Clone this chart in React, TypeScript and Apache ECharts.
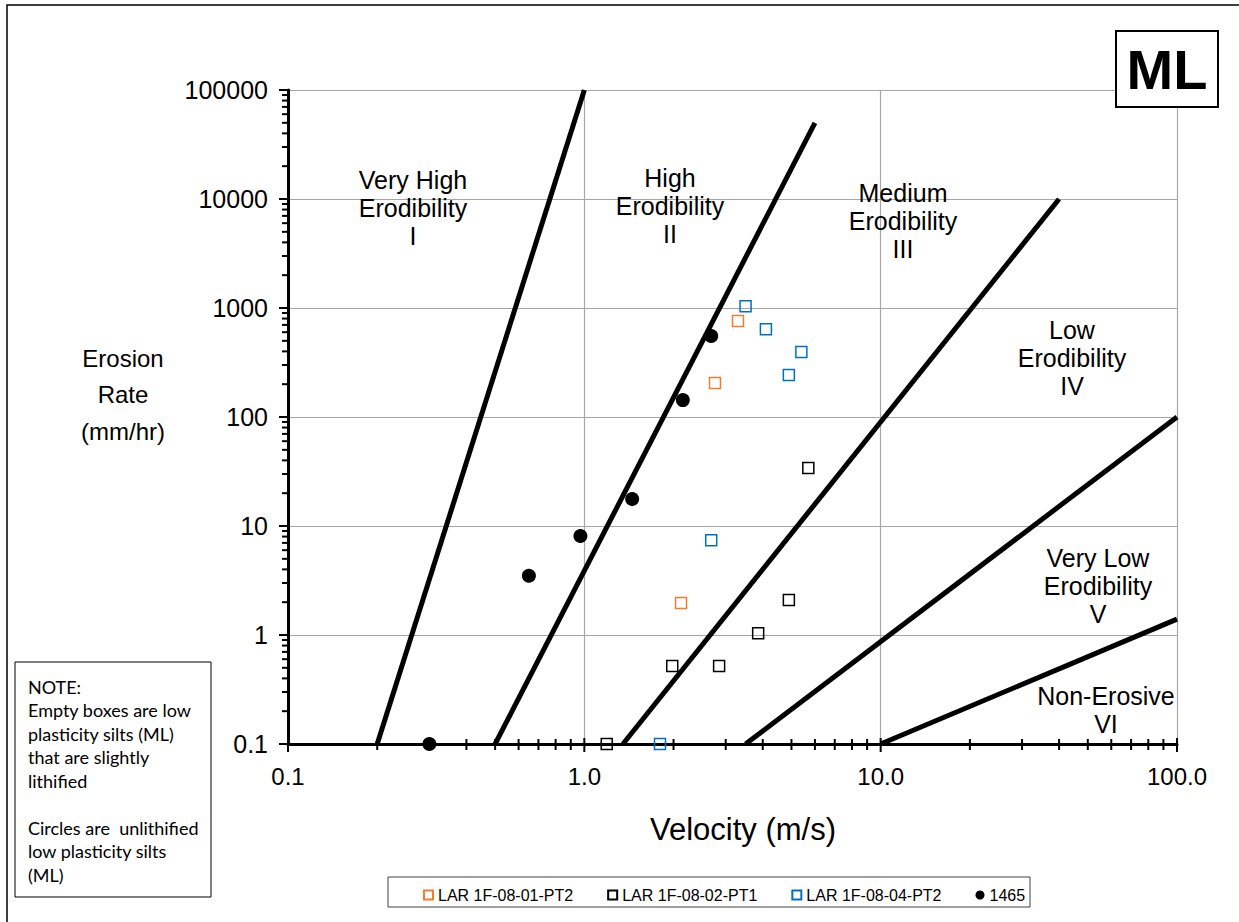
import React, { useEffect, useRef } from "react";
import * as echarts from "echarts";

// Axis ticks
const xTicks = [0.1, 1, 10, 100];
const xTickLabels = ["0.1", "1.0", "10.0", "100.0"];
const yTicks = [0.1, 1, 10, 100, 1000, 10000, 100000];
const yTickLabels = ["0.1", "1", "10", "100", "1000", "10000", "100000"];
const minorMantissas = [2, 3, 4, 5, 6, 7, 8, 9];

// Axis titles
const xTitle = "Velocity (m/s)";
const yTitle = "Erosion\nRate\n(mm/hr)";

// Measured samples: [velocity m/s, erosion rate mm/hr]
const seriesNames = ["LAR 1F-08-01-PT2", "LAR 1F-08-02-PT1", "LAR 1F-08-04-PT2", "1465"];
const lar0801pt2 = [[3.3, 760], [2.76, 205], [2.12, 1.97]];
const lar0802pt1 = [[5.7, 34], [4.9, 2.1], [3.86, 1.04], [2.85, 0.52], [1.98, 0.52], [1.19, 0.1]];
const lar0804pt2 = [[3.5, 1040], [4.1, 640], [5.4, 395], [4.9, 243], [2.68, 7.4], [1.8, 0.1]];
const s1465 = [[0.3, 0.1], [0.65, 3.5], [0.97, 8.1], [1.45, 17.7], [2.15, 143], [2.68, 553]];

// Erodibility category boundaries
const boundaries = [
  [[0.2, 0.1], [1, 100000]],
  [[0.5, 0.1], [6, 50000]],
  [[1.35, 0.1], [40, 10000]],
  [[3.5, 0.1], [100, 100]],
  [[10, 0.1], [100, 1.4]],
];

const zoneLabels = [
  { text: "Very High\nErodibility\nI", x: 413, y: 166 },
  { text: "High\nErodibility\nII", x: 670, y: 164 },
  { text: "Medium\nErodibility\nIII", x: 903, y: 179 },
  { text: "Low\nErodibility\nIV", x: 1072, y: 316 },
  { text: "Very Low\nErodibility\nV", x: 1098, y: 544 },
  { text: "Non-Erosive\nVI", x: 1106, y: 682 },
];

const noteText =
  "NOTE:\nEmpty boxes are low\nplasticity silts (ML)\nthat are slightly\nlithified\n\nCircles are  unlithified\nlow plasticity silts\n(ML)";

const FONT = "'Liberation Sans', Arial, sans-serif";

const lookup = (ticks: number[], labels: string[], v: number) => {
  const i = ticks.findIndex((t) => Math.abs(Math.log10(t) - Math.log10(v)) < 1e-6);
  return i >= 0 ? labels[i] : "";
};

// Tick marks: [x, y, kind]; kind 0 = x minor, 1 = x major, 2 = y minor, 3 = y major
const buildTicks = () => {
  const out: number[][] = [];
  xTicks.forEach((t, i) => {
    out.push([t, 0.1, 1]);
    if (i < xTicks.length - 1) minorMantissas.forEach((m) => out.push([t * m, 0.1, 0]));
  });
  yTicks.forEach((t, i) => {
    out.push([0.1, t, 3]);
    if (i < yTicks.length - 1) minorMantissas.forEach((m) => out.push([0.1, t * m, 2]));
  });
  return out;
};

const squareStyle = (c: string) => ({
  color: "rgba(0,0,0,0)",
  borderColor: c,
  borderWidth: 1.5,
  opacity: 1,
});

export default function App() {
  const ref = useRef<HTMLDivElement>(null);

  useEffect(() => {
    if (!ref.current) return;
    const chart = echarts.init(ref.current, null, { renderer: "svg" });

    const option: any = {
      animation: false,
      backgroundColor: "#fff",
      grid: { left: 288, top: 90, width: 889, height: 654, containLabel: false },
      xAxis: {
        type: "log",
        logBase: 10,
        min: 0.1,
        max: 100,
        axisLine: { show: true, lineStyle: { color: "#000", width: 3 } },
        axisTick: { show: false },
        splitLine: { show: true, lineStyle: { color: "#A6A6A6", width: 1.2 } },
        axisLabel: {
          formatter: (v: number) => lookup(xTicks, xTickLabels, v),
          fontSize: 24,
          color: "#000",
          fontFamily: FONT,
          margin: 20,
        },
      },
      yAxis: {
        type: "log",
        logBase: 10,
        min: 0.1,
        max: 100000,
        axisLine: { show: true, lineStyle: { color: "#000", width: 3 } },
        axisTick: { show: false },
        splitLine: { show: true, lineStyle: { color: "#A6A6A6", width: 1.2 } },
        axisLabel: {
          formatter: (v: number) => lookup(yTicks, yTickLabels, v),
          fontSize: 25,
          color: "#000",
          fontFamily: FONT,
          margin: 20,
        },
      },
      legend: {
        data: seriesNames,
        left: 418,
        top: 882,
        itemWidth: 9,
        itemHeight: 9,
        itemGap: 34,
        textStyle: { fontSize: 16, color: "#000", fontFamily: FONT },
        selectedMode: false,
      },
      series: [
        ...boundaries.map((b, i) => ({
          name: "boundary" + i,
          type: "line",
          data: b,
          symbol: "none",
          silent: true,
          lineStyle: { color: "#000", width: 5 },
          z: 3,
        })),
        {
          name: "ticks",
          type: "custom",
          silent: true,
          clip: false,
          z: 4,
          data: buildTicks(),
          renderItem: (_p: any, api: any) => {
            const kind = api.value(2);
            const pt = api.coord([api.value(0), api.value(1)]);
            let shape;
            if (kind === 0) shape = { x1: pt[0], y1: pt[1] - 5, x2: pt[0], y2: pt[1] + 6 };
            else if (kind === 1) shape = { x1: pt[0], y1: pt[1] - 6, x2: pt[0], y2: pt[1] + 8 };
            else if (kind === 2) shape = { x1: pt[0] - 6, y1: pt[1], x2: pt[0], y2: pt[1] };
            else shape = { x1: pt[0] - 9, y1: pt[1], x2: pt[0] + 2, y2: pt[1] };
            return { type: "line", shape, style: { stroke: "#000", lineWidth: 2 } };
          },
        },
        {
          name: seriesNames[0],
          type: "scatter",
          data: lar0801pt2,
          symbol: "rect",
          symbolSize: 11,
          clip: false,
          itemStyle: squareStyle("#ED7D31"),
          z: 5,
        },
        {
          name: seriesNames[1],
          type: "scatter",
          data: lar0802pt1,
          symbol: "rect",
          symbolSize: 11,
          clip: false,
          itemStyle: squareStyle("#000000"),
          z: 5,
        },
        {
          name: seriesNames[2],
          type: "scatter",
          data: lar0804pt2,
          symbol: "rect",
          symbolSize: 11,
          clip: false,
          itemStyle: squareStyle("#0070C0"),
          z: 5,
        },
        {
          name: seriesNames[3],
          type: "scatter",
          data: s1465,
          symbol: "circle",
          symbolSize: 14,
          clip: false,
          itemStyle: { color: "#000", opacity: 1 },
          z: 5,
        },
      ],
      graphic: [
        {
          type: "rect",
          shape: { x: 7, y: 5, width: 1300, height: 1000 },
          style: { fill: "none", stroke: "#000", lineWidth: 1.5 },
          silent: true,
        },
        {
          type: "text",
          x: 123,
          y: 340,
          style: {
            text: yTitle,
            fontSize: 24,
            lineHeight: 36.5,
            fontFamily: FONT,
            fill: "#000",
            textAlign: "center",
            textVerticalAlign: "top",
          },
        },
        {
          type: "text",
          x: 743,
          y: 829,
          style: {
            text: xTitle,
            fontSize: 31,
            fontFamily: FONT,
            fill: "#000",
            textAlign: "center",
            textVerticalAlign: "middle",
          },
        },
        {
          type: "rect",
          shape: { x: 1116, y: 31, width: 102, height: 76 },
          style: { fill: "#fff", stroke: "#000", lineWidth: 2 },
          z: 10,
        },
        {
          type: "text",
          x: 1167,
          y: 69,
          z: 11,
          style: {
            text: "ML",
            fontSize: 56,
            fontWeight: "bold",
            fontFamily: FONT,
            fill: "#000",
            textAlign: "center",
            textVerticalAlign: "middle",
          },
        },
        {
          type: "rect",
          shape: { x: 15, y: 662, width: 196, height: 235 },
          style: { fill: "#fff", stroke: "#000", lineWidth: 1 },
          z: 10,
        },
        {
          type: "text",
          x: 28,
          y: 675,
          z: 11,
          style: {
            text: noteText,
            fontSize: 18,
            lineHeight: 23.5,
            fontFamily: "Lato, 'Open Sans', sans-serif",
            fill: "#000",
            textAlign: "left",
            textVerticalAlign: "top",
          },
        },
        {
          type: "rect",
          shape: { x: 388, y: 877, width: 642, height: 30 },
          style: { fill: "none", stroke: "#404040", lineWidth: 1 },
        },
        ...zoneLabels.map((z) => ({
          type: "text",
          x: z.x,
          y: z.y,
          z: 6,
          style: {
            text: z.text,
            fontSize: 25,
            lineHeight: 28,
            fontFamily: FONT,
            fill: "#000",
            textAlign: "center",
            textVerticalAlign: "top",
          },
        })),
      ],
    };

    chart.setOption(option);
    return () => chart.dispose();
  }, []);

  return (
    <div
      ref={ref}
      style={{ position: "absolute", left: 0, top: 0, width: 1239, height: 922 }}
    />
  );
}
